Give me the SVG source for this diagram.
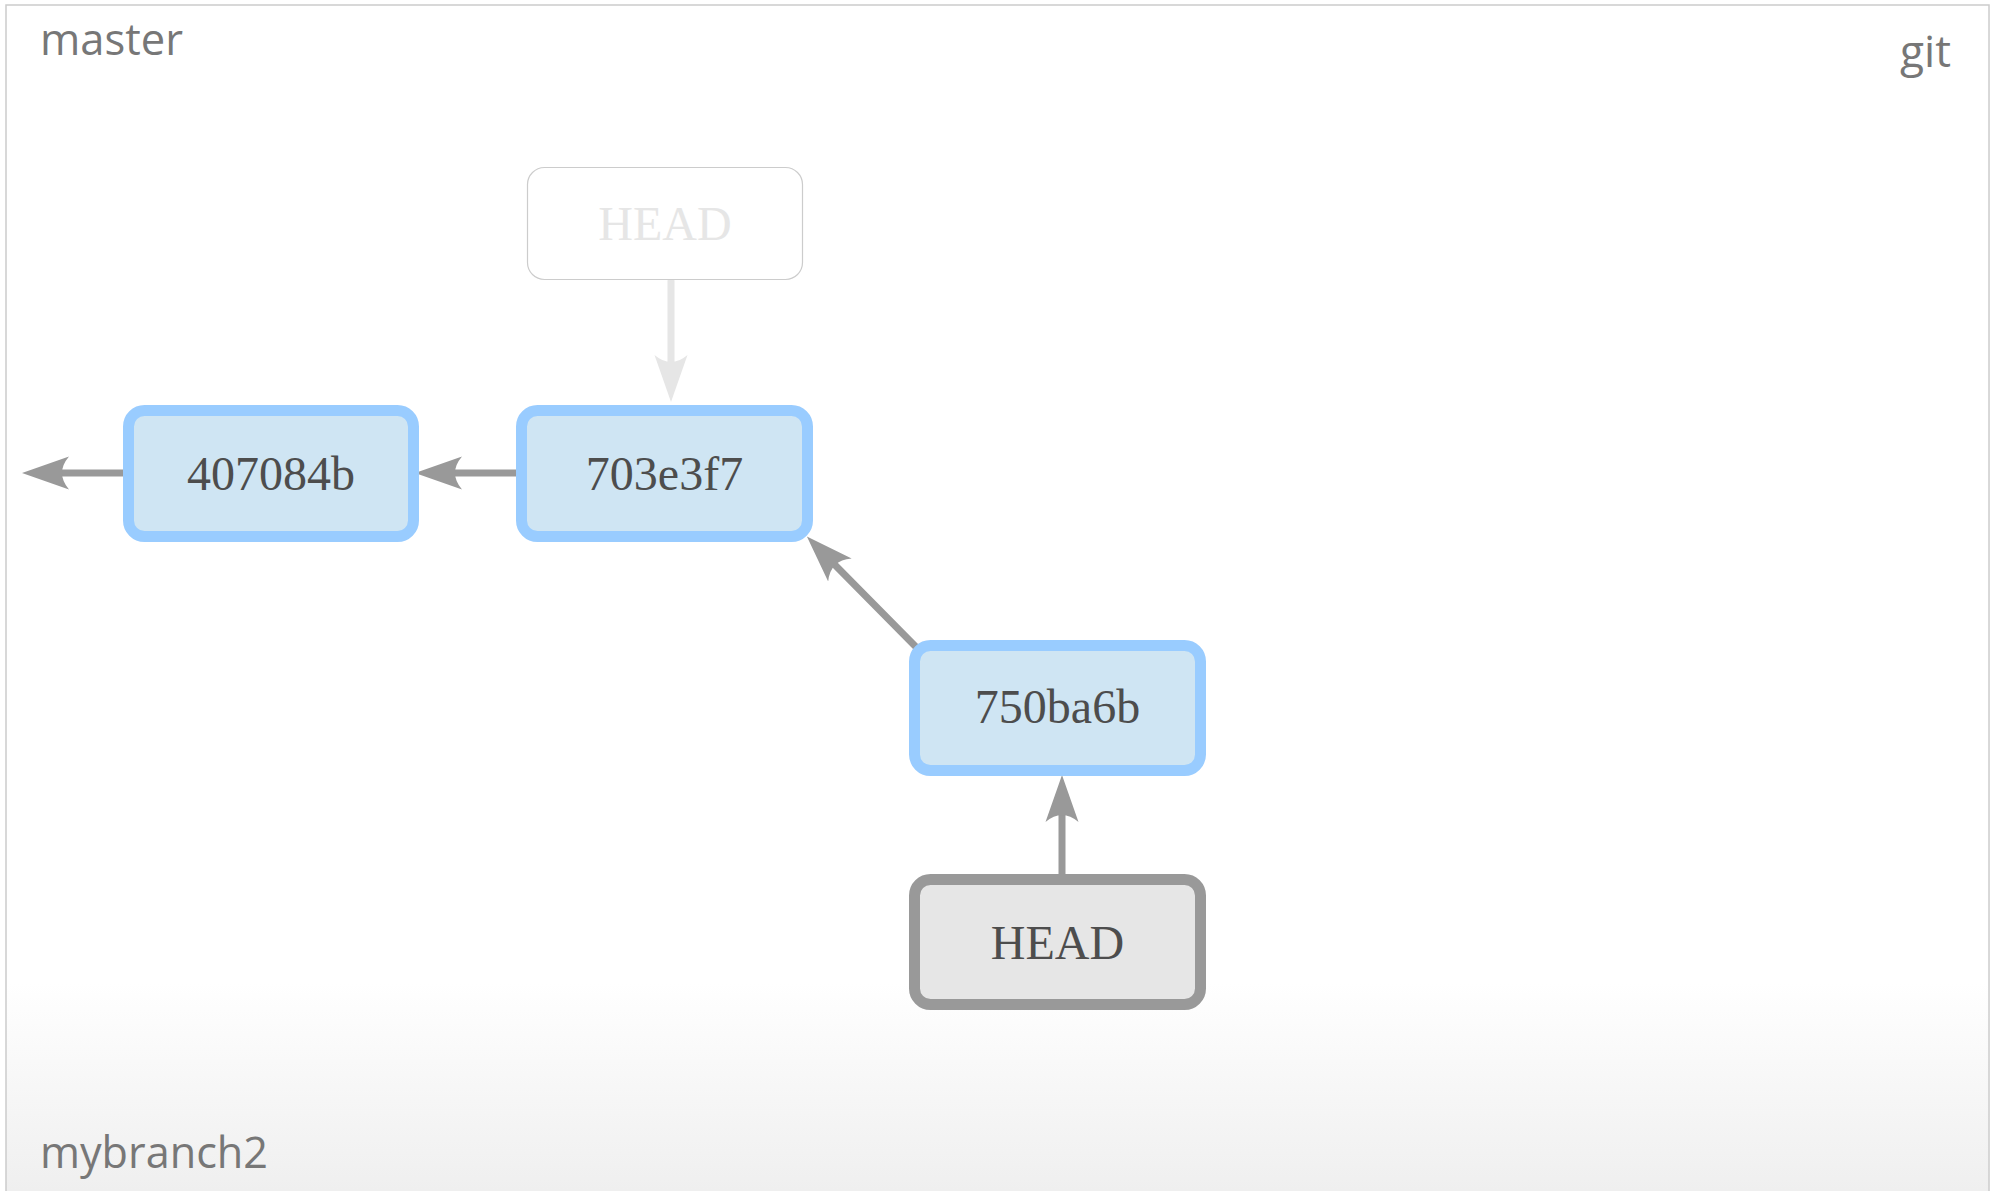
<svg xmlns="http://www.w3.org/2000/svg" width="1995" height="1191" viewBox="0 0 1995 1191">
  <defs>
    <linearGradient id="bg" x1="0" y1="0" x2="0" y2="1191" gradientUnits="userSpaceOnUse">
      <stop offset="0" stop-color="#ffffff"/>
      <stop offset="0.825" stop-color="#ffffff"/>
      <stop offset="1" stop-color="#efefef"/>
    </linearGradient>
    <marker id="arr" markerUnits="userSpaceOnUse" markerWidth="48" markerHeight="34" viewBox="0 0 48 34" refX="7" refY="17" orient="auto">
      <path d="M47,17 L0,0.5 Q14,17 0,33.5 Z" fill="#999999"/>
    </marker>
    <marker id="arrGhost" markerUnits="userSpaceOnUse" markerWidth="48" markerHeight="34" viewBox="0 0 48 34" refX="7" refY="17" orient="auto">
      <path d="M47,17 L0,0.5 Q14,17 0,33.5 Z" fill="#e6e6e6"/>
    </marker>
  </defs>
  <style>
    .commit rect { fill: #cfe5f3; stroke: #99ccff; stroke-width: 11; }
    .head rect { fill: #e6e6e6; stroke: #999999; stroke-width: 11; }
    .ghost rect { fill: #ffffff; stroke: #cccccc; stroke-width: 1.2; }
    .nodetext { font-family: "Liberation Serif", "Times New Roman", serif; font-size: 48px; fill: #4d4d4d; text-anchor: middle; }
    .ghost .nodetext { fill: #e6e6e6; }
    .label { font-family: "Open Sans", "Noto Sans", sans-serif; font-size: 44px; fill: #777777; }
    .edge { stroke: #999999; stroke-width: 7; fill: none; stroke-linecap: round; marker-end: url(#arr); }
    .edge.ghostedge { stroke: #e6e6e6; marker-end: url(#arrGhost); }
  </style>

  <rect x="6" y="5" width="1983" height="1200" fill="url(#bg)" stroke="#cccccc" stroke-width="1.5"/>

  <text class="label" x="40" y="55" textLength="143" lengthAdjust="spacingAndGlyphs">master</text>
  <text class="label" x="1900" y="67" textLength="51" lengthAdjust="spacingAndGlyphs">git</text>
  <text class="label" x="40" y="1168" textLength="228" lengthAdjust="spacingAndGlyphs">mybranch2</text>

  <g id="connectors">
    <line class="edge" x1="123" y1="473" x2="62" y2="473"/>
    <line class="edge" x1="516" y1="473" x2="455" y2="473"/>
    <line class="edge" x1="917" y1="648" x2="835" y2="565"/>
    <line class="edge" x1="1062" y1="874" x2="1062" y2="815"/>
    <line class="edge ghostedge" x1="671" y1="281" x2="671" y2="362"/>
  </g>

  <g id="node-ghost-head" class="ghost">
    <rect x="527.5" y="167.5" width="275" height="112" rx="17" ry="17"/>
    <text class="nodetext" x="665" y="240">HEAD</text>
  </g>

  <g id="node-407084b" class="commit">
    <rect x="128.5" y="410.5" width="285" height="126" rx="16" ry="16"/>
    <text class="nodetext" x="271" y="490">407084b</text>
  </g>

  <g id="node-703e3f7" class="commit">
    <rect x="521.5" y="410.5" width="286" height="126" rx="16" ry="16"/>
    <text class="nodetext" x="664.5" y="490">703e3f7</text>
  </g>

  <g id="node-750ba6b" class="commit">
    <rect x="914.5" y="645.5" width="286" height="125" rx="16" ry="16"/>
    <text class="nodetext" x="1057.5" y="723">750ba6b</text>
  </g>

  <g id="node-head" class="head">
    <rect x="914.5" y="879.5" width="286" height="125" rx="16" ry="16"/>
    <text class="nodetext" x="1057.5" y="959">HEAD</text>
  </g>
</svg>
